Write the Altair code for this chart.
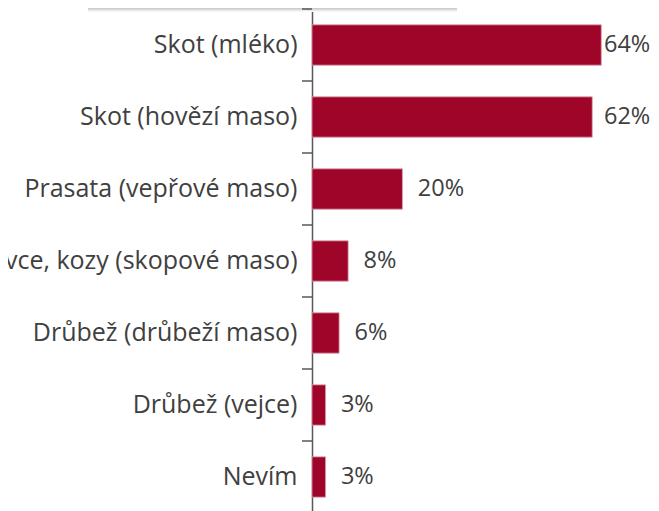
import altair as alt
import pandas as pd

categories = ["Skot (mléko)", "Skot (hovězí maso)", "Prasata (vepřové maso)",
              "Ovce, kozy (skopové maso)", "Drůbež (drůbeží maso)",
              "Drůbež (vejce)", "Nevím"]
values = [64, 62, 20, 8, 6, 3, 3]
value_labels = ["64%", "62%", "20%", "8%", "6%", "3%", "3%"]

df = pd.DataFrame({"cat": categories, "pct": values, "lab": value_labels})

FONT = "Open Sans"
TXT = "#404040"
BAR = "#9E0529"
AX = "#595959"
FS = 25

y_axis = alt.Axis(labelFont=FONT, labelFontSize=FS, labelColor=TXT, labelFontWeight=400,
                  labelPadding=15, ticks=False, domainColor=AX,
                  domainWidth=1.5, labelLimit=0, grid=False)
y_scale = alt.Scale(paddingInner=0.44, paddingOuter=0.22)
x_scale = alt.Scale(domain=[0, 75], nice=False, zero=True)

bars = alt.Chart(df).mark_bar(color=BAR, stroke="#d8a0ae", strokeWidth=0.8).encode(
    x=alt.X("pct:Q", scale=x_scale, axis=None),
    y=alt.Y("cat:N", sort=categories, title=None, scale=y_scale, axis=y_axis),
)

labels = alt.Chart(df).transform_calculate(
    lx="min(datum.pct + 3.4, 64.6)"
).mark_text(align="left", baseline="middle", font=FONT, fontSize=23.5,
            fontWeight=400, color=TXT).encode(
    x=alt.X("lx:Q", scale=x_scale, axis=None),
    y=alt.Y("cat:N", sort=categories, title=None, scale=y_scale, axis=y_axis),
    text="lab:N",
)

# category separator ticks, on a band scale without padding (band boundaries)
ticks = alt.Chart(df).mark_rule(color=AX, strokeWidth=1.5).encode(
    y=alt.Y("cat:N", sort=categories, bandPosition=0,
            scale=alt.Scale(paddingInner=0, paddingOuter=0), axis=None),
    x=alt.value(-10), x2=alt.value(0),
)

shadow = alt.Chart(df.head(1)).mark_rect(
    color=alt.Gradient(gradient="linear",
                       stops=[alt.GradientStop(color="#c4c4c4", offset=0),
                              alt.GradientStop(color="#ffffff", offset=1)],
                       x1=0, x2=0, y1=0, y2=1)
).encode(x=alt.value(-224), x2=alt.value(145), y=alt.value(-1), y2=alt.value(3))

main = alt.layer(bars, labels)
chart = alt.layer(shadow, main, ticks).resolve_scale(y="independent").properties(
    width=339, height=504,
    autosize=alt.AutoSizeParams(type="none"),
    padding={"left": 304, "top": 1, "right": 0, "bottom": 0},
).configure_view(stroke=None)

chart.save("out.html", embed_options={"renderer": "svg", "actions": False})
